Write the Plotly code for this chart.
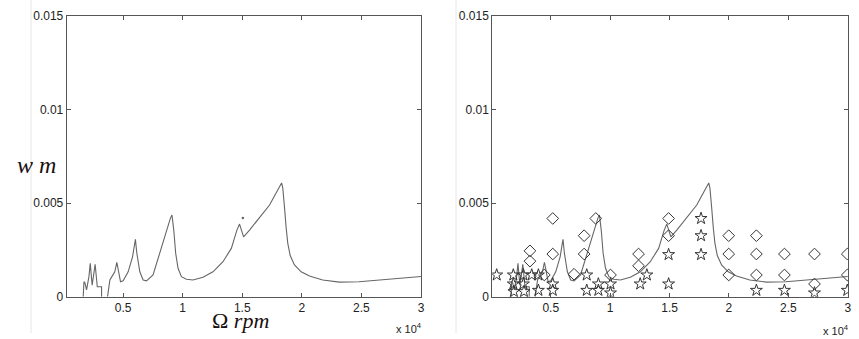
import plotly.graph_objects as go

# ---- response curve (rpm, w in m) ----
curve_rpm = [1650, 1710, 1790, 1930, 2130, 2240, 2400, 2570, 2650, 2830, 3190, 3190, None,
             3690, 3890, 4080, 4300, 4470, 4610, 4780, 5000, 5420, 5790, 5950,
             6030, 6150, 6400, 6680, 6960, 7510, 7800, 8350, 8770, 8970, 9100,
             9250, 9410, 9610, 9890, 10310, 10860, 11700, 12540, 13380, 14080,
             14550, 14770, 14920, 15110, 15610, 16450, 17290, 17710, 17980,
             18180, 18300, 18400, 18460, 18540, 18680, 18820, 19020, 19380,
             19940, 20640, 21750, 23150, 24800, 26500, 28170, 30000]
curve_w = [0.0, 0.00080, 0.00075, 0.00036, 0.00107, 0.00178, 0.00062, 0.00125,
           0.00173, 0.00053, 0.00053, 0.0, None,
           0.0, 0.00089, 0.00110, 0.00133, 0.00184, 0.00125, 0.00080, 0.00085,
           0.00133, 0.00213, 0.00285, 0.00306, 0.00232, 0.00133, 0.00089,
           0.00085, 0.00116, 0.00178, 0.00285, 0.00374, 0.00420, 0.00436,
           0.00356, 0.00232, 0.00152, 0.00107, 0.00093, 0.00089, 0.00104,
           0.00133, 0.00187, 0.00258, 0.00356, 0.00388, 0.00356, 0.00320,
           0.00356, 0.00420, 0.00490, 0.00540, 0.00570, 0.00600, 0.00608,
           0.00580, 0.00550, 0.00480, 0.00370, 0.00285, 0.00220, 0.00170,
           0.00133, 0.00110, 0.00089, 0.00078, 0.00080, 0.00089, 0.00098,
           0.00108]
dot_rpm = [15050]
dot_w = [0.0042]

# ---- experimental points (right panel) ----
diamond_rpm = [5170, 5170, 3250, 3250, 4460, 6960, 7810, 7810, 8790, 10030,
               12390, 12390, 14920, 14920, 19980, 19980, 19980, 22310, 22310,
               22310, 24670, 24670, 27200, 27200, 29960, 29960]
diamond_w = [0.00418, 0.00228, 0.00245, 0.00190, 0.00116, 0.00120, 0.00326,
             0.00228, 0.00418, 0.00116, 0.00228, 0.00165, 0.00418, 0.00326,
             0.00326, 0.00228, 0.00116, 0.00326, 0.00228, 0.00116, 0.00228,
             0.00116, 0.00228, 0.00068, 0.00228, 0.00116]
star_rpm = [450, 1850, 1850, 1900, 2700, 2700, 2750, 3400, 3960, 3960, 5170,
            5170, 8030, 8030, 9010, 9010, 10030, 10030, 12530, 13090, 14920,
            14920, 17650, 17650, 17650, 22310, 24670, 27200, 29960]
star_w = [0.00116, 0.00116, 0.00068, 0.00027, 0.00116, 0.00068, 0.00027,
          0.00116, 0.00116, 0.00034, 0.00068, 0.00034, 0.00116, 0.00034,
          0.00068, 0.00034, 0.00068, 0.00020, 0.00068, 0.00116, 0.00225,
          0.00068, 0.00418, 0.00326, 0.00225, 0.00034, 0.00034, 0.00020,
          0.00034]

x_tickvals = [5000, 10000, 15000, 20000, 25000, 30000]
x_ticktext = ["0.5", "1", "1.5", "2", "2.5", "3"]
y_tickvals = [0, 0.005, 0.01, 0.015]
y_ticktext = ["0", "0.005", "0.01", "0.015"]

LINE_COLOR = "#666666"
MARK_COLOR = "#333333"

fig = go.Figure()
for xa, ya in [("x", "y"), ("x2", "y2")]:
    fig.add_trace(go.Scatter(x=curve_rpm, y=curve_w, mode="lines",
                             line=dict(color=LINE_COLOR, width=1.1),
                             connectgaps=False, xaxis=xa, yaxis=ya,
                             showlegend=False, hoverinfo="skip"))
fig.add_trace(go.Scatter(x=dot_rpm, y=dot_w, mode="markers",
                         marker=dict(color=LINE_COLOR, size=2.5),
                         xaxis="x", yaxis="y", showlegend=False))
fig.add_trace(go.Scatter(x=diamond_rpm, y=diamond_w, mode="markers",
                         marker=dict(symbol="diamond-open", size=9,
                                     color=MARK_COLOR, line=dict(width=1)),
                         xaxis="x2", yaxis="y2", showlegend=False))
fig.add_trace(go.Scatter(x=star_rpm, y=star_w, mode="markers",
                         marker=dict(symbol="star-open", size=9,
                                     color=MARK_COLOR, line=dict(width=1)),
                         xaxis="x2", yaxis="y2", showlegend=False))

tickfont = dict(family="Liberation Sans, Arial, sans-serif", size=12, color="#222222")
axis_common = dict(showgrid=False, zeroline=False, showline=True,
                   linecolor="#555555", linewidth=1, mirror="ticks",
                   ticks="inside", ticklen=4, tickcolor="#555555",
                   tickfont=tickfont, automargin=False)

fig.update_layout(
    width=859, height=339,
    margin=dict(l=0, r=0, t=0, b=0),
    paper_bgcolor="white", plot_bgcolor="white",
    xaxis=dict(domain=[0.0776, 0.4901], range=[260, 30000],
               tickvals=x_tickvals, ticktext=x_ticktext, anchor="y",
               **axis_common),
    yaxis=dict(domain=[0.1248, 0.9528], range=[0, 0.015],
               tickvals=y_tickvals, ticktext=y_ticktext, anchor="x",
               **axis_common),
    xaxis2=dict(domain=[0.5731, 0.9876], range=[80, 30050],
                tickvals=x_tickvals, ticktext=x_ticktext, anchor="y2",
                **axis_common),
    yaxis2=dict(domain=[0.1248, 0.9528], range=[0, 0.015],
                tickvals=y_tickvals, ticktext=y_ticktext, anchor="x2",
                **axis_common),
)

annots = [
    dict(x=409 / 859, y=1 - 328 / 339, text="x 10<sup>4</sup>"),
    dict(x=836 / 859, y=1 - 330 / 339, text="x 10<sup>4</sup>"),
]
for a in annots:
    fig.add_annotation(xref="paper", yref="paper", x=a["x"], y=a["y"],
                       xanchor="center", yanchor="middle",
                       text=a["text"], showarrow=False,
                       font=dict(family="Liberation Sans, Arial", size=11, color="#222222"))

fig.add_annotation(xref="paper", yref="paper", x=36.5 / 859, y=1 - 165 / 339,
                   xanchor="center", yanchor="middle",
                   text="<i>w m</i>", showarrow=False,
                   font=dict(family="Liberation Serif, serif", size=24, color="#1a0f0f"))
fig.add_annotation(xref="paper", yref="paper", x=240 / 859, y=1 - 320 / 339,
                   xanchor="center", yanchor="middle",
                   text="Ω <i>rpm</i>", showarrow=False,
                   font=dict(family="Liberation Serif, serif", size=22, color="#1a0f0f"))

# faint image-edge lines
for xp in [31, 456]:
    fig.add_shape(type="line", xref="paper", yref="paper",
                  x0=xp / 859, x1=xp / 859, y0=1 - 333 / 339, y1=1,
                  line=dict(color="#e6e6e6", width=1))

fig.write_html("out.html", config={"displayModeBar": False},
               post_script="document.body.style.margin='0';")
